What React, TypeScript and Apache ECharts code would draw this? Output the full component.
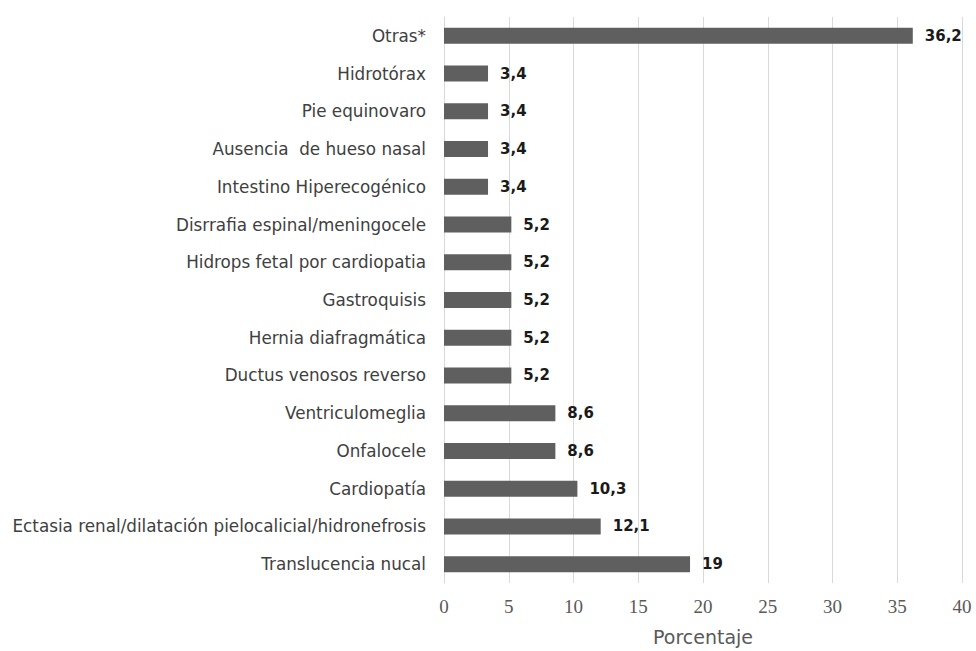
import React, { useEffect, useRef } from "react";
import * as echarts from "echarts";

const categories = [
  "Translucencia nucal",
  "Ectasia renal/dilatación pielocalicial/hidronefrosis",
  "Cardiopatía",
  "Onfalocele",
  "Ventriculomeglia",
  "Ductus venosos reverso",
  "Hernia diafragmática",
  "Gastroquisis",
  "Hidrops fetal por cardiopatia",
  "Disrrafia espinal/meningocele",
  "Intestino Hiperecogénico",
  "Ausencia  de hueso nasal",
  "Pie equinovaro",
  "Hidrotórax",
  "Otras*",
];
const values = [19, 12.1, 10.3, 8.6, 8.6, 5.2, 5.2, 5.2, 5.2, 5.2, 3.4, 3.4, 3.4, 3.4, 36.2];
const xTicks = [0, 5, 10, 15, 20, 25, 30, 35, 40];
const xTitle = "Porcentaje";

export default function App() {
  const ref = useRef<HTMLDivElement>(null);
  useEffect(() => {
    document.body.style.margin = "0";
    const chart = echarts.init(ref.current!, null, { renderer: "svg" });
    chart.setOption({
      animation: false,
      grid: { left: 444, right: 14, top: 17, bottom: 63, containLabel: false },
      xAxis: {
        type: "value",
        min: xTicks[0],
        max: xTicks[xTicks.length - 1],
        interval: 5,
        axisLine: { show: false },
        axisTick: { show: false },
        splitLine: { show: true, lineStyle: { color: "#d9d9d9", width: 1 } },
        axisLabel: {
          color: "#595959",
          fontFamily: "Liberation Serif",
          fontSize: 19,
          margin: 14,
        },
        name: xTitle,
        nameLocation: "middle",
        nameGap: 44,
        nameTextStyle: { color: "#595959", fontFamily: "DejaVu Sans", fontSize: 19 },
      },
      yAxis: {
        type: "category",
        data: categories,
        axisLine: { show: true, lineStyle: { color: "#d9d9d9", width: 1 } },
        axisTick: { show: false },
        axisLabel: {
          color: "#404040",
          fontFamily: "DejaVu Sans",
          fontSize: 16.8,
          margin: 18,
        },
      },
      series: [
        {
          type: "bar",
          data: values,
          barWidth: 16,
          itemStyle: { color: "#5f5f5f" },
          label: {
            show: true,
            position: "right",
            distance: 12,
            color: "#1a1a1a",
            fontFamily: "DejaVu Sans",
            fontWeight: "bold",
            fontSize: 15,
            formatter: (p: any) => String(p.value).replace(".", ","),
          },
        },
      ],
    });
    return () => chart.dispose();
  }, []);
  return <div ref={ref} style={{ width: 976, height: 651 }} />;
}
